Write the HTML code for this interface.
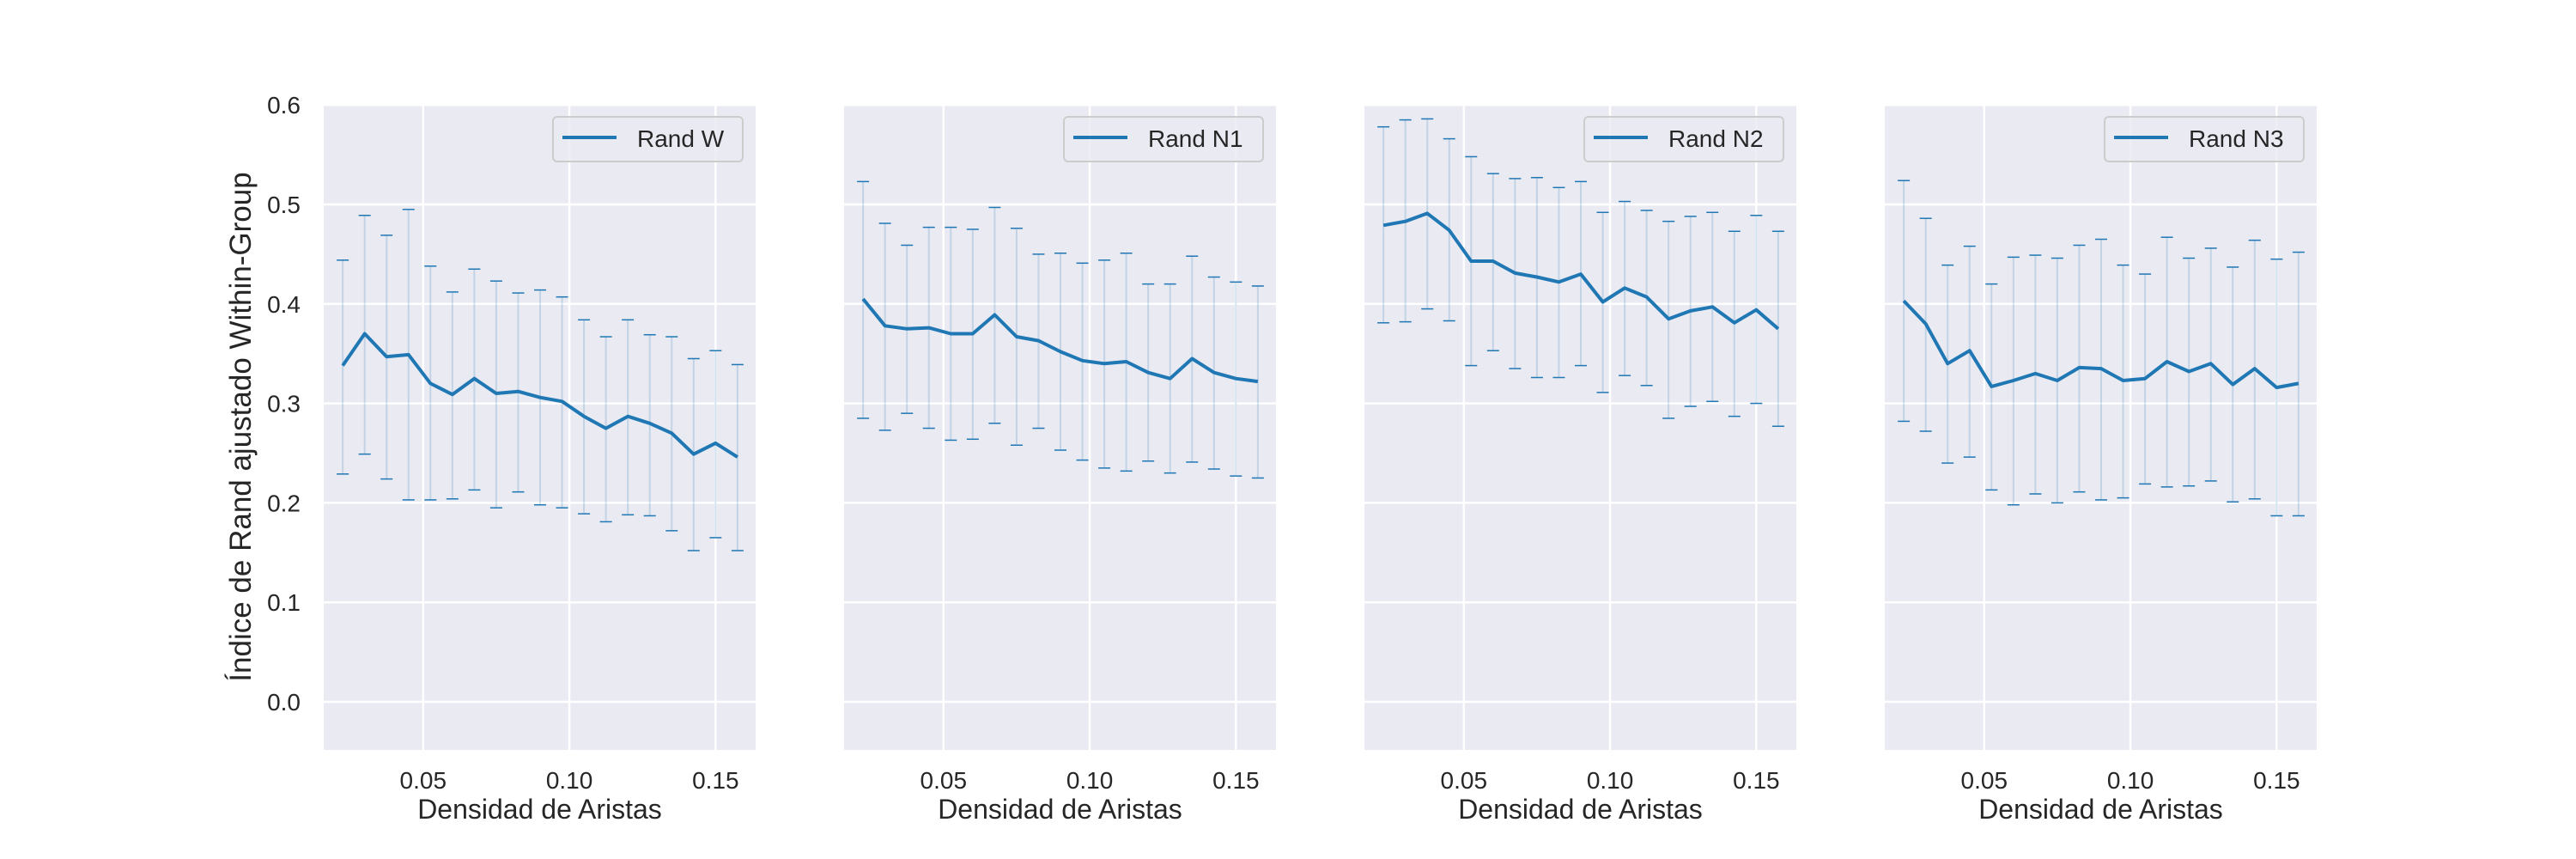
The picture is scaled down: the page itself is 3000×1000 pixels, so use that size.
<!DOCTYPE html>
<html><head><meta charset="utf-8"><style>
html,body{margin:0;padding:0;background:#fff;}
svg{display:block;font-family:"Liberation Sans",Arial,sans-serif;}
</style></head><body>
<svg id="chart" width="3000" height="1000" viewBox="0 0 3000 1000" xmlns="http://www.w3.org/2000/svg"></svg>
<script>
const xValues = [0.0225,0.03,0.0375,0.045,0.0525,0.06,0.0675,0.075,0.0825,0.09,0.0975,0.105,0.1125,0.12,0.1275,0.135,0.1425,0.15,0.1575];
const seriesNames = ["Rand W","Rand N1","Rand N2","Rand N3"];
const meanW = [0.338,0.370,0.347,0.349,0.320,0.309,0.325,0.310,0.312,0.306,0.302,0.287,0.275,0.287,0.280,0.270,0.249,0.260,0.246];
const upperW = [0.444,0.489,0.469,0.495,0.438,0.412,0.435,0.423,0.411,0.414,0.407,0.384,0.367,0.384,0.369,0.367,0.345,0.353,0.339];
const lowerW = [0.229,0.249,0.224,0.203,0.203,0.204,0.213,0.195,0.211,0.198,0.195,0.189,0.181,0.188,0.187,0.172,0.152,0.165,0.152];
const meanN1 = [0.405,0.378,0.375,0.376,0.370,0.370,0.389,0.367,0.363,0.352,0.343,0.340,0.342,0.331,0.325,0.345,0.331,0.325,0.322];
const upperN1 = [0.523,0.481,0.459,0.477,0.477,0.475,0.497,0.476,0.450,0.451,0.441,0.444,0.451,0.420,0.420,0.448,0.427,0.422,0.418];
const lowerN1 = [0.285,0.273,0.290,0.275,0.263,0.264,0.280,0.258,0.275,0.253,0.243,0.235,0.232,0.242,0.230,0.241,0.234,0.227,0.225];
const meanN2 = [0.479,0.483,0.491,0.474,0.443,0.443,0.431,0.427,0.422,0.430,0.402,0.416,0.407,0.385,0.393,0.397,0.381,0.394,0.375];
const upperN2 = [0.578,0.585,0.586,0.566,0.548,0.531,0.526,0.527,0.517,0.523,0.492,0.503,0.494,0.483,0.488,0.492,0.473,0.489,0.473];
const lowerN2 = [0.381,0.382,0.395,0.383,0.338,0.353,0.335,0.326,0.326,0.338,0.311,0.328,0.318,0.285,0.297,0.302,0.287,0.300,0.277];
const meanN3 = [0.403,0.380,0.340,0.353,0.317,0.323,0.330,0.323,0.336,0.335,0.323,0.325,0.342,0.332,0.340,0.319,0.335,0.316,0.320];
const upperN3 = [0.524,0.486,0.439,0.458,0.420,0.447,0.449,0.446,0.459,0.465,0.439,0.430,0.467,0.446,0.456,0.437,0.464,0.445,0.452];
const lowerN3 = [0.282,0.272,0.240,0.246,0.213,0.198,0.209,0.200,0.211,0.203,0.205,0.219,0.216,0.217,0.222,0.201,0.204,0.187,0.187];
const xTicks = [0.05,0.10,0.15];
const xTickLabels = ["0.05","0.10","0.15"];
const yTicks = [0.0,0.1,0.2,0.3,0.4,0.5,0.6];
const yTickLabels = ["0.0","0.1","0.2","0.3","0.4","0.5","0.6"];

const means=[meanW,meanN1,meanN2,meanN3], uppers=[upperW,upperN1,upperN2,upperN3], lowers=[lowerW,lowerN1,lowerN2,lowerN3];
const NS="http://www.w3.org/2000/svg";
const svg=document.getElementById('chart');
const lefts=[377,983,1589,2195], W=503, TOP=122, BOT=873;
const xmin=0.016, xmax=0.1637;
function yS(v){return 817-(v/0.1)*115.8;}
function mk(tag,attrs,parent){const e=document.createElementNS(NS,tag);for(const k in attrs)e.setAttribute(k,attrs[k]);(parent||svg).appendChild(e);return e;}
const C="#1f77b4";
for(let p=0;p<4;p++){
  const L=lefts[p];
  const xS=v=>L+(v-xmin)/(xmax-xmin)*W;
  const g=mk('g',{});
  
  
  const bg=mk('rect',{x:L,y:TOP,width:W,height:BOT-TOP,fill:'#eaeaf2'},g);
  
  
  yTicks.forEach((t,i)=>{
    const gl=mk('line',{x1:L,x2:L+W,y1:yS(t),y2:yS(t),stroke:'#fff','stroke-width':2.5},g);
    
    
    if(p===0){
      const tl=mk('text',{x:350,y:yS(t)+10,'font-size':28,fill:'#262626','text-anchor':'end'},g);
      tl.textContent=yTickLabels[i];
      
      
    }
  });
  xTicks.forEach((t,i)=>{
    const gl=mk('line',{x1:xS(t),x2:xS(t),y1:TOP,y2:BOT,stroke:'#fff','stroke-width':2.5},g);
    
    
    const tl=mk('text',{x:xS(t),y:918,'font-size':28,fill:'#262626','text-anchor':'middle'},g);
    tl.textContent=xTickLabels[i];
    
    
  });
  const xl=mk('text',{x:L+W/2,y:953,'font-size':32,fill:'#262626','text-anchor':'middle'},g);
  xl.textContent='Densidad de Aristas';
  
  
  xValues.forEach((xv,i)=>{
    const x=xS(xv);
    const v=mk('line',{x1:x,x2:x,y1:yS(uppers[p][i]),y2:yS(lowers[p][i]),stroke:C,'stroke-opacity':0.2,'stroke-width':2},g);
    
    
    [uppers[p][i],lowers[p][i]].forEach(cv=>{
      const c=mk('line',{x1:x-7,x2:x+7,y1:yS(cv),y2:yS(cv),stroke:C,'stroke-width':1.5},g);
      
      
    });
  });
  const pts=xValues.map((xv,i)=>xS(xv).toFixed(1)+','+yS(means[p][i]).toFixed(1)).join(' ');
  const ln=mk('polyline',{points:pts,fill:'none',stroke:C,'stroke-width':4,'stroke-linejoin':'round'},g);
  
  
  const lw=p===0?221:232;
  const lg=mk('g',{},g);
  
  
  mk('rect',{x:L+W-15-lw,y:136,width:lw,height:52,rx:5,fill:'#eaeaf2','fill-opacity':0.8,stroke:'#cccccc','stroke-width':2},lg);
  mk('line',{x1:L+W-15-lw+11,x2:L+W-15-lw+74,y1:160,y2:160,stroke:C,'stroke-width':4},lg);
  const lt=mk('text',{x:L+W-15-lw+98,y:171,'font-size':28,fill:'#262626'},lg);
  lt.textContent=seriesNames[p];
  
  
}
const yl=mk('text',{x:0,y:0,'font-size':35,fill:'#262626','text-anchor':'middle',transform:'translate(292,497) rotate(-90)'});
yl.textContent='Índice de Rand ajustado Within-Group';


</script>
</body></html>
